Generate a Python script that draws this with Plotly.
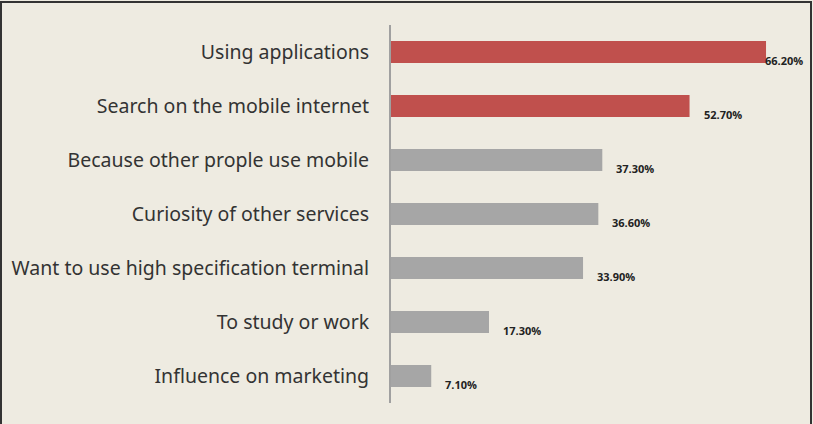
import plotly.graph_objects as go

categories = ["Using applications", "Search on the mobile internet", "Because other prople use mobile",
              "Curiosity of other services", "Want to use high specification terminal",
              "To study or work", "Influence on marketing"]
values = [66.2, 52.7, 37.3, 36.6, 33.9, 17.3, 7.1]
highlight = [True, True, False, False, False, False, False]
labels = ["66.20%", "52.70%", "37.30%", "36.60%", "33.90%", "17.30%", "7.10%"]

RED = "#C0504D"
GRAY = "#A6A6A6"
BG = "#EEEBE1"

W, H = 813, 424
L, R, T, B = 391, 14, 25, 21
PW, PH = W - L - R, H - T - B

colors = [RED if h else GRAY for h in highlight]

fig = go.Figure(go.Bar(
    x=values, y=categories, orientation="h",
    marker=dict(color=colors, line=dict(width=0)),
    width=0.41, hoverinfo="skip",
))

annotations = []
for i, (v, c, t) in enumerate(zip(values, categories, labels)):
    xs = -3 if v == max(values) else 12
    annotations.append(dict(
        x=v, y=c, xref="x", yref="y", text=t, showarrow=False,
        xanchor="left", yanchor="middle", xshift=xs, yshift=-8,
        font=dict(family="Open Sans, Noto Sans, sans-serif", size=11, color="#222222", weight="bold"),
    ))

fig.update_layout(
    width=W, height=H,
    margin=dict(l=L, r=R, t=T, b=B, pad=0, autoexpand=False),
    paper_bgcolor=BG, plot_bgcolor=BG,
    showlegend=False,
    bargap=0.59,
    annotations=annotations,
    xaxis=dict(range=[0, PW / 5.665], visible=False, showgrid=False, zeroline=False, automargin=False),
    yaxis=dict(
        autorange="reversed", showgrid=False, zeroline=False, automargin=False,
        showline=True, linecolor="#A0A0A0", linewidth=2,
        ticks="", ticklabelstandoff=16,
        tickfont=dict(family="Noto Sans, Open Sans, sans-serif", size=19.5, color="#333333"),
    ),
    shapes=[dict(
        type="rect", xref="paper", yref="paper",
        x0=(1 - L) / PW, x1=(811 - L) / PW,
        y0=-(B + 10) / PH, y1=1 + (T - 2) / PH,
        line=dict(color="#333333", width=2), fillcolor="rgba(0,0,0,0)", layer="above",
    )],
)

fig.write_html("out.html")
